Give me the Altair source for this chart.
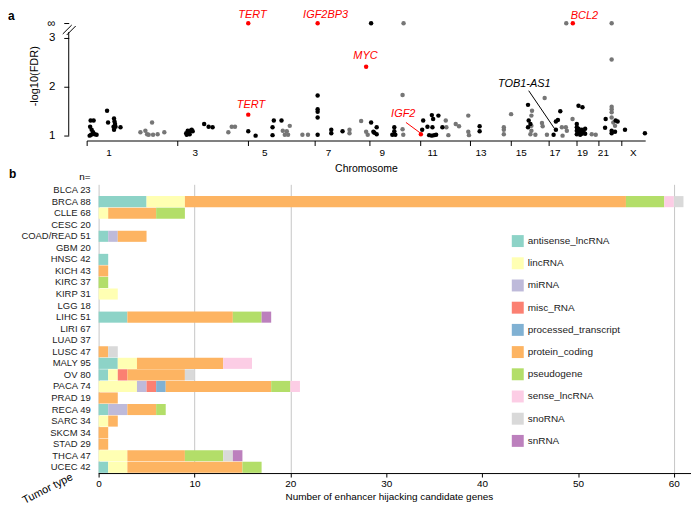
import altair as alt
import pandas as pd

# ---------------- panel a : -log10(FDR) along the genome ----------------
INF = 3.3  # level at which FDR = 0 ("∞") hits are drawn

chrom_names = [str(i) for i in range(1, 23)] + ["X"]
# chromosome lengths in genome units (as drawn)
chrom_len = [45, 46, 36, 35, 34, 33, 28, 27, 26, 25, 25, 25, 22, 19, 21, 17, 13, 15, 12, 10, 10, 13, 24]

black_pos = [4, 7, 3.5, 5, 6.5, 4.5, 8, 10, 3, 20.5, 21.5, 27.5, 28, 28.5, 27, 29, 27.5, 34,
             100, 101.5, 102.5, 104, 105.5, 100.5, 103.5, 106.5, 118, 122.5, 126.5,
             162.3, 169.7, 186.7, 188, 186.7, 195.7,
             232, 232, 232, 232, 232, 245.7, 245.7, 257,
             285.7, 285.7, 288, 291.3, 291.3, 289, 309, 309, 310, 307,
             338, 337, 342.3, 344, 346.7, 348, 347.3, 346.7, 349, 353.3, 351, 357.3,
             394.7, 394.7,
             443.3, 444, 443.3, 445.7,
             469, 471.3, 471.3, 473.3, 475.7,
             494, 498, 492.3, 492.3, 492.3, 492.3, 494, 494, 495.7, 495.7, 497.3, 497.3, 499, 500.7, 500.7,
             521.3, 520.7, 527.3, 527.3, 531.3, 533.3, 530.7,
             540.7, 560.7]
black_val = [1.31, 1.31, 1.18, 1.12, 1.07, 1.02, 1.03, 1.02, 1.0, 1.51, 1.27, 1.35, 1.29, 1.24, 1.18, 1.18, 1.12, 1.17,
             1.05, 1.1, 1.07, 1.1, 1.12, 1.02, 1.03, 1.09, 1.24, 1.18, 1.17,
             1.09, 1.0, 1.17, 1.31, 1.01, 1.31,
             1.82, 1.54, 1.49, 1.37, 1.02, 1.12, 1.05, 1.09,
             INF, 1.27, 1.08, 1.17, 1.03, 1.06, 1.17, 1.09, 1.02, 1.02,
             1.31, 1.12, 1.18, 1.01, 1.42, 1.34, 1.17, 1.0, 1.01, 1.41, 1.02, 1.17,
             1.19, 1.09,
             1.63, 1.31, 1.17, 1.24,
             1.02, 1.12, 1.29, 1.32, 1.5,
             1.61, 1.58, 1.24, 1.17, 1.1, 1.03, 1.14, 1.06, 1.1, 1.02, 1.12, 1.04, 1.08, 1.14, 1.04,
             1.34, 1.16, 1.1, 1.05, 1.31, 1.29, 1.08,
             1.12, 1.05]

gray_pos = [54, 59, 60.7, 62.3, 65.7, 66.7, 71.3, 78,
            142.3, 145.7, 149,
            197, 201, 204, 199, 202.3, 216.7, 222.3,
            264, 264, 275.7, 280.7, 282.3,
            318.3, 317.3, 317.3, 318,
            360.7, 361.3, 363.3, 370.7, 374, 383.3, 383.3, 384,
            419, 419, 419, 426.3,
            447.3, 446.7, 446.7, 446.7, 445.7, 450.7, 457.3, 458, 460, 462.3,
            481.7, 477.3, 478, 481.3, 482.3, 488,
            507.3, 511.3,
            527.3, 527.3, 527.3, 527.3, 527.3, 527.3, 529, 530.7]
gray_val = [1.07, 1.1, 1.03, 1.02, 1.27, 1.02, 1.03, 1.07,
            1.07, 1.18, 1.18,
            1.1, 1.09, 1.2, 1.02, 1.02, 1.02, 1.02,
            1.12, 1.05, 1.3, 1.08, 1.02,
            INF, 1.83, 1.13, 1.02,
            1.31, 1.17, 1.01, 1.24, 1.19, 1.41, 1.08, 1.01,
            1.17, 1.12, 1.03, 1.44,
            1.51, 1.41, 1.2, 1.1, 1.03, 1.02, 1.26, 1.19, 1.77, 1.02,
            INF, 1.17, 1.0, 1.17, 1.1, 1.34,
            1.03, 1.02,
            INF, 2.56, 1.59, 1.54, 1.48, 1.37, 1.27, 1.2]

hit_gene = ["TERT", "TERT", "IGF2BP3", "MYC", "IGF2", "BCL2"]
hit_pos = [162.3, 162.3, 232, 280.7, 335.7, 488.3]
hit_val = [INF, 1.43, INF, 2.41, 1.03, INF]

red_label_text = ["TERT", "TERT", "IGF2BP3", "MYC", "IGF2", "BCL2"]
red_label_pos = [166.5, 165, 240, 280, 318, 500]
red_label_val = [3.46, 1.63, 3.46, 2.63, 1.44, 3.45]

black_label_text = ["TOB1-AS1"]
black_label_pos = [439.5]
black_label_val = [2.06]

red_line = {"pos": [320.7], "val": [1.27], "pos2": [334.7], "val2": [1.06]}
black_line = {"pos": [444], "val": [1.92], "pos2": [469.7], "val2": [1.15]}

# ---------------- panel b : candidate genes per tumour type ----------------
tumors = ["BLCA", "BRCA", "CLLE", "CESC", "COAD/READ", "GBM", "HNSC", "KICH", "KIRC", "KIRP",
          "LGG", "LIHC", "LIRI", "LUAD", "LUSC", "MALY", "OV", "PACA", "PRAD", "RECA",
          "SARC", "SKCM", "STAD", "THCA", "UCEC"]
n_samples = [23, 88, 68, 20, 51, 20, 42, 43, 37, 31, 18, 51, 67, 37, 47, 95, 80, 74, 19, 49,
             34, 34, 29, 47, 42]

gene_types = ["antisense_lncRNA", "lincRNA", "miRNA", "misc_RNA", "processed_transcript",
              "protein_coding", "pseudogene", "sense_lncRNA", "snoRNA", "snRNA"]
type_colors = ["#8dd3c7", "#ffffb3", "#bebada", "#fb8072", "#80b1d3",
               "#fdb462", "#b3de69", "#fccde5", "#d9d9d9", "#bc80bd"]

antisense_lncRNA = [0, 5, 0, 0, 1, 0, 1, 0, 0, 0, 0, 3, 0, 0, 0, 2, 1, 0, 0, 1, 0, 0, 0, 0, 1]
lincRNA = [0, 4, 1, 0, 0, 0, 0, 0, 0, 2, 0, 0, 0, 0, 0, 2, 1, 4, 0, 0, 1, 0, 0, 3, 2]
miRNA = [0, 0, 0, 0, 1, 0, 0, 0, 0, 0, 0, 0, 0, 0, 0, 0, 0, 1, 0, 2, 0, 0, 0, 0, 0]
misc_RNA = [0, 0, 0, 0, 0, 0, 0, 0, 0, 0, 0, 0, 0, 0, 0, 0, 1, 1, 0, 0, 0, 0, 0, 0, 0]
processed_transcript = [0, 0, 0, 0, 0, 0, 0, 0, 0, 0, 0, 0, 0, 0, 0, 0, 0, 1, 0, 0, 0, 0, 0, 0, 0]
protein_coding = [0, 46, 5, 0, 3, 0, 0, 1, 0, 0, 0, 11, 0, 0, 1, 9, 6, 11, 2, 3, 1, 1, 1, 6, 12]
pseudogene = [0, 4, 3, 0, 0, 0, 0, 0, 1, 0, 0, 3, 0, 0, 0, 0, 0, 2, 0, 1, 0, 0, 0, 4, 2]
sense_lncRNA = [0, 1, 0, 0, 0, 0, 0, 0, 0, 0, 0, 0, 0, 0, 0, 3, 0, 1, 0, 0, 0, 0, 0, 0, 0]
snoRNA = [0, 1, 0, 0, 0, 0, 0, 0, 0, 0, 0, 0, 0, 0, 1, 0, 1, 0, 0, 0, 0, 0, 0, 1, 0]
snRNA = [0, 0, 0, 0, 0, 0, 0, 0, 0, 0, 0, 1, 0, 0, 0, 0, 0, 0, 0, 0, 0, 0, 0, 1, 0]

x_ticks_b = [0, 10, 20, 30, 40, 50, 60]

# ======================= build panel a =======================
RED = "#ff0000"
GRAY = "#767676"

bounds = [0]
for L in chrom_len:
    bounds.append(bounds[-1] + L)
lab_pos, lab_txt = [], []
for i, name in enumerate(chrom_names):
    if i % 2 == 0:
        lab_pos.append(bounds[i] + chrom_len[i] / 2)
        lab_txt.append(name)

xs_a = alt.Scale(domain=[0, bounds[-1]], nice=False, zero=False)
ys_a = alt.Scale(domain=[0.9, 3.55], nice=False, zero=False)

x_axis_a = alt.Axis(values=bounds, labels=False, tickSize=5, tickColor="black",
                    domainColor="black", title="Chromosome", titleFontSize=10.5,
                    titlePadding=18, grid=False)
y_axis_a = alt.Axis(values=[1, 2, 3, INF],
                    labelExpr="datum.value > 3.1 ? '∞' : format(datum.value, '.0f')",
                    domain=False, offset=18, tickSize=5, tickColor="black",
                    labelPadding=9, labelFontSize=11.5, title="-log10(FDR)",
                    titleFontSize=11, titlePadding=7, grid=False)

W_A, H_A = bounds[-1], 130

df_gray = pd.DataFrame({"pos": gray_pos, "val": gray_val})
df_black = pd.DataFrame({"pos": black_pos, "val": black_val})
df_hit = pd.DataFrame({"gene": hit_gene, "pos": hit_pos, "val": hit_val})
df_rlab = pd.DataFrame({"gene": red_label_text, "pos": red_label_pos, "val": red_label_val})
df_blab = pd.DataFrame({"gene": black_label_text, "pos": black_label_pos, "val": black_label_val})
df_chr = pd.DataFrame({"pos": lab_pos, "chrom": lab_txt})
one = pd.DataFrame({"t": ["a"]})

gray_pts = alt.Chart(df_gray).mark_circle(size=20, opacity=1, color=GRAY).encode(
    x=alt.X("pos:Q", scale=xs_a, axis=x_axis_a),
    y=alt.Y("val:Q", scale=ys_a, axis=y_axis_a))
black_pts = alt.Chart(df_black).mark_circle(size=20, opacity=1, color="black").encode(
    x=alt.X("pos:Q", scale=xs_a), y=alt.Y("val:Q", scale=ys_a))
hit_pts = alt.Chart(df_hit).mark_circle(size=20, opacity=1, color=RED).encode(
    x=alt.X("pos:Q", scale=xs_a), y=alt.Y("val:Q", scale=ys_a))
red_text = alt.Chart(df_rlab).mark_text(color=RED, fontSize=11, fontStyle="italic").encode(
    x=alt.X("pos:Q", scale=xs_a), y=alt.Y("val:Q", scale=ys_a), text="gene:N")
black_text = alt.Chart(df_blab).mark_text(color="black", fontSize=11, fontStyle="italic").encode(
    x=alt.X("pos:Q", scale=xs_a), y=alt.Y("val:Q", scale=ys_a), text="gene:N")
red_seg = alt.Chart(pd.DataFrame(red_line)).mark_rule(color=RED, strokeWidth=1).encode(
    x=alt.X("pos:Q", scale=xs_a), x2="pos2:Q", y=alt.Y("val:Q", scale=ys_a), y2="val2:Q")
black_seg = alt.Chart(pd.DataFrame(black_line)).mark_rule(color="black", strokeWidth=1).encode(
    x=alt.X("pos:Q", scale=xs_a), x2="pos2:Q", y=alt.Y("val:Q", scale=ys_a), y2="val2:Q")
chr_text = alt.Chart(df_chr).mark_text(fontSize=10, color="black").encode(
    x=alt.X("pos:Q", scale=xs_a), y=alt.value(H_A + 12.5), text="chrom:N")
y_line = alt.Chart(one).mark_rule(color="black", strokeWidth=1).encode(
    x=alt.value(-18), y=alt.datum(1.0), y2=alt.datum(3.12))
break1 = alt.Chart(one).mark_rule(color="black", strokeWidth=1).encode(
    x=alt.value(-24), x2=alt.value(-15), y=alt.value(23), y2=alt.value(14))
break2 = alt.Chart(one).mark_rule(color="black", strokeWidth=1).encode(
    x=alt.value(-20), x2=alt.value(-11), y=alt.value(24), y2=alt.value(15))
tag_a = alt.Chart(one).mark_text(fontSize=12, fontWeight="bold", align="left").encode(
    x=alt.value(-79), y=alt.value(4.5), text="t:N")

panel_a = alt.layer(gray_pts, black_pts, hit_pts, red_seg, black_seg, red_text, black_text,
                    chr_text, y_line, break1, break2, tag_a).properties(width=W_A, height=H_A)

# ======================= build panel b =======================
labels = [f"{t} {n}" for t, n in zip(tumors, n_samples)]
type_counts = [antisense_lncRNA, lincRNA, miRNA, misc_RNA, processed_transcript,
               protein_coding, pseudogene, sense_lncRNA, snoRNA, snRNA]
rows = []
for i, lab in enumerate(labels):
    for k, t in enumerate(gene_types):
        c = type_counts[k][i]
        if c > 0:
            rows.append({"label": lab, "type": t, "count": c, "order": k})
df_bars = pd.DataFrame(rows)

SPACING = 44
PX_PER_UNIT = 9.63
W_B, H_B = 607, 290
X0 = -12 / PX_PER_UNIT
xs_b = alt.Scale(domain=[X0, X0 + W_B / PX_PER_UNIT], nice=False, zero=False)

bars = alt.Chart(df_bars).mark_bar().encode(
    x=alt.X("count:Q", stack="zero", scale=xs_b,
            axis=alt.Axis(values=x_ticks_b, domain=False, grid=True, gridColor="#c6c6c6",
                          gridOpacity={"condition": {"test": "datum.value > 25 && datum.value < 55",
                                                     "value": 0}, "value": 1},
                          tickSize=4, tickColor="black", labelFontSize=10, labelPadding=2,
                          title="Number of enhancer hijacking candidate genes",
                          titleFontSize=10, titlePadding=3)),
    y=alt.Y("label:N", scale=alt.Scale(domain=labels, paddingInner=0.04, paddingOuter=0.02),
            axis=alt.Axis(title=None, domain=False, ticks=False, tickSize=0, labelPadding=-3.5,
                          labelFontSize=9.5, labelColor="#222222")),
    color=alt.Color("type:N", scale=alt.Scale(domain=gene_types, range=type_colors),
                    legend=alt.Legend(orient="none", legendX=427, legendY=H_A + SPACING + 51,
                                      title=None,
                                      symbolType="square", symbolSize=144, symbolStrokeWidth=0,
                                      symbolOpacity=1, labelFontSize=10, labelOffset=4,
                                      rowPadding=10.3, padding=0, labelLimit=200,
                                      labelColor="#222222")),
    order=alt.Order("order:Q", sort="ascending"))

x_line = alt.Chart(one).mark_rule(color="black", strokeWidth=1).encode(
    x=alt.datum(0), x2=alt.datum(X0 + W_B / PX_PER_UNIT), y=alt.value(H_B + 0.5))
n_text = alt.Chart(pd.DataFrame({"t": ["n="]})).mark_text(fontSize=10, align="right").encode(
    x=alt.value(4), y=alt.value(-7), text="t:N")
tag_b = alt.Chart(pd.DataFrame({"t": ["b"]})).mark_text(fontSize=12, fontWeight="bold",
                                                         align="left").encode(
    x=alt.value(-78), y=alt.value(-10), text="t:N")
tumor_title = alt.Chart(pd.DataFrame({"t": ["Tumor type"]})).mark_text(
    fontSize=11, angle=333, align="center").encode(
    x=alt.value(-39), y=alt.value(306), text="t:N")

panel_b = alt.layer(bars, x_line, n_text, tag_b, tumor_title).properties(width=W_B, height=H_B)

chart = alt.vconcat(panel_a, panel_b, spacing=SPACING, bounds="flush").properties(
    padding=0
).configure(font="Liberation Sans").configure_view(stroke=None).configure_axis(
    labelColor="black", titleColor="black", titleFontWeight="normal",
    labelFont="Liberation Sans", titleFont="Liberation Sans"
).configure_legend(labelFont="Liberation Sans")

chart.save("out.html", embed_options={"renderer": "svg", "actions": False})
